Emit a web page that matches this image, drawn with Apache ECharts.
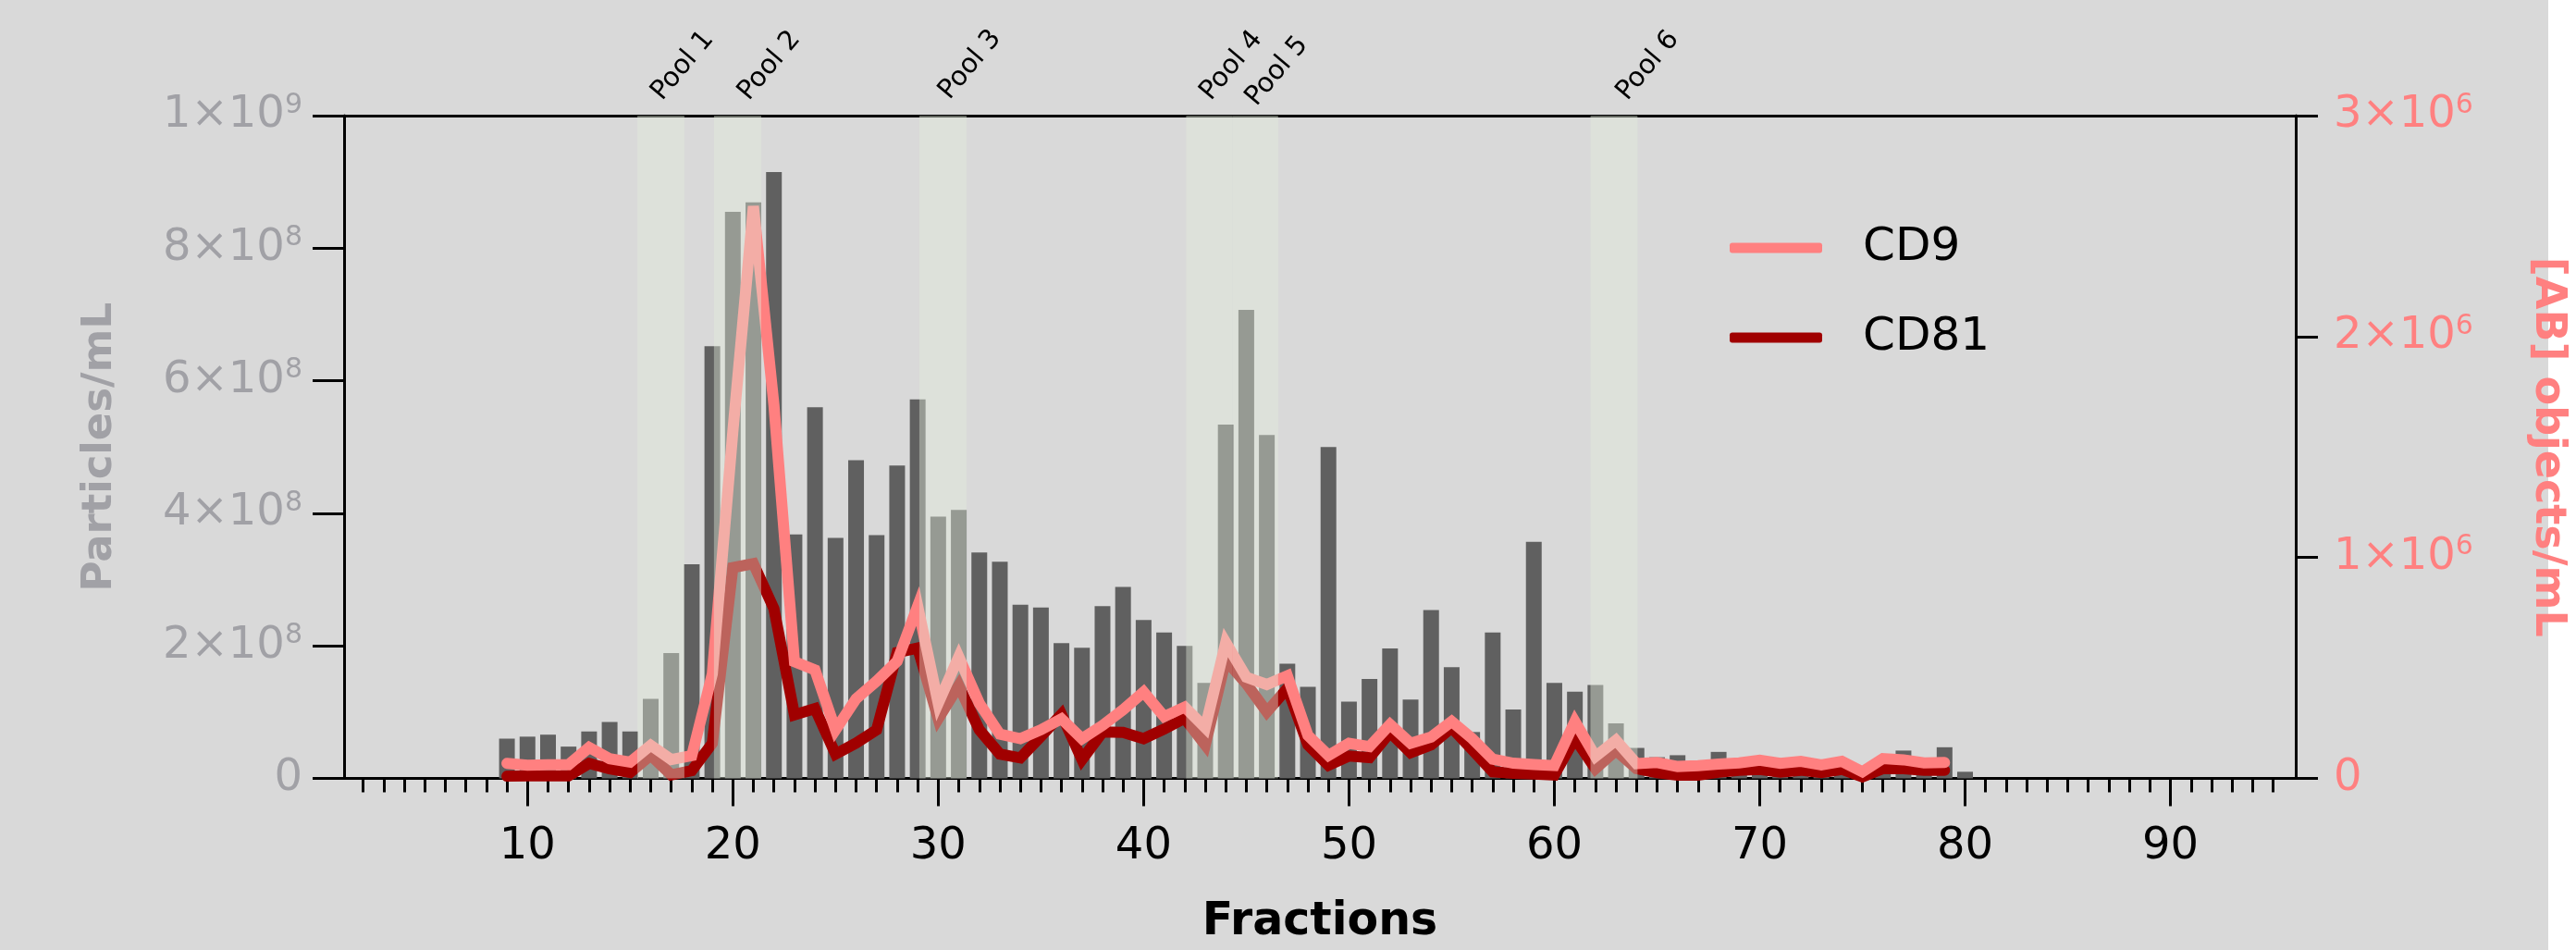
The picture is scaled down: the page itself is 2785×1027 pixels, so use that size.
<!DOCTYPE html>
<html>
<head>
<meta charset="utf-8">
<script src="https://cdn.jsdelivr.net/npm/echarts@6/dist/echarts.min.js"></script>
<style>
html, body { margin: 0; padding: 0; background: #d9d9d9; }
#chart { width: 2785px; height: 1027px; }
</style>
</head>
<body>
<div id="chart"></div>
<script>
// fractions 9..80 (bars) ; lines stop at fraction 79
var fractions = [9,10,11,12,13,14,15,16,17,18,19,20,21,22,23,24,25,26,27,28,29,30,31,32,33,34,35,36,37,38,39,40,
  41,42,43,44,45,46,47,48,49,50,51,52,53,54,55,56,57,58,59,60,61,62,63,64,65,66,67,68,69,70,71,72,73,74,75,76,77,78,79,80];

// Particles/mL
var particles = [6.0e7,6.3e7,6.6e7,4.8e7,7.1e7,8.5e7,7.1e7,1.20e8,1.89e8,3.23e8,6.52e8,8.55e8,8.69e8,9.15e8,3.68e8,5.60e8,
  3.63e8,4.80e8,3.67e8,4.72e8,5.72e8,3.95e8,4.05e8,3.41e8,3.27e8,2.62e8,2.58e8,2.04e8,1.97e8,2.60e8,2.89e8,2.39e8,
  2.20e8,2.00e8,1.44e8,5.34e8,7.07e8,5.18e8,1.73e8,1.38e8,5.00e8,1.16e8,1.50e8,1.96e8,1.19e8,2.54e8,1.68e8,7.0e7,
  2.20e8,1.04e8,3.57e8,1.44e8,1.31e8,1.41e8,8.3e7,4.6e7,3.2e7,3.5e7,2.6e7,4.0e7,1.0e7,2.0e7,1.5e7,2.0e7,1.5e7,2.0e7,
  1.0e7,2.5e7,4.2e7,2.0e7,4.7e7,1.0e7];

// [AB] objects/mL
var cd9 = [6.8e4,6.0e4,6.2e4,6.2e4,1.40e5,8.9e4,7.4e4,1.50e5,8.5e4,1.03e5,4.73e5,1.57e6,2.59e6,1.69e6,5.28e5,4.91e5,
  2.20e5,3.60e5,4.40e5,5.30e5,7.80e5,3.40e5,5.50e5,3.40e5,2.00e5,1.80e5,2.20e5,2.70e5,1.80e5,2.40e5,3.11e5,3.91e5,
  2.80e5,3.23e5,2.30e5,6.15e5,4.58e5,4.25e5,4.65e5,1.95e5,1.04e5,1.59e5,1.44e5,2.44e5,1.59e5,1.87e5,2.58e5,1.80e5,
  8.7e4,6.9e4,6.3e4,5.8e4,2.58e5,9.9e4,1.73e5,6.7e4,7.2e4,5.4e4,5.8e4,6.5e4,7.0e4,8.2e4,6.8e4,7.7e4,6.1e4,7.7e4,
  3.0e4,9.0e4,8.4e4,7.0e4,7.2e4];
var cd81 = [1.0e4,1.2e4,1.2e4,1.2e4,6.8e4,4.3e4,2.7e4,1.05e5,1.6e4,3.5e4,1.59e5,9.54e5,9.72e5,7.68e5,2.88e5,3.16e5,
  1.10e5,1.60e5,2.20e5,5.70e5,5.90e5,2.70e5,4.20e5,2.20e5,1.10e5,9.3e4,1.90e5,2.90e5,8.5e4,2.10e5,2.08e5,1.80e5,
  2.23e5,2.72e5,1.52e5,5.36e5,4.29e5,3.01e5,4.08e5,1.52e5,5.9e4,1.01e5,9.4e4,2.08e5,1.16e5,1.52e5,2.30e5,1.30e5,
  3.0e4,2.3e4,2.0e4,1.5e4,1.82e5,4.4e4,1.27e5,4.4e4,2.6e4,1.5e4,1.5e4,2.8e4,3.7e4,4.1e4,2.8e4,3.7e4,2.6e4,4.1e4,
  7.0e3,4.4e4,4.4e4,3.7e4,3.7e4];

// pooled fraction ranges
var poolNames = ['Pool 1','Pool 2','Pool 3','Pool 4','Pool 5','Pool 6'];
var poolStart = [15.35, 19.08, 29.08, 42.07, 44.33, 61.76];
var poolEnd   = [17.64, 21.38, 31.38, 44.33, 46.55, 64.05];
// label offset (px) from the top-left corner of each pool band
var poolLabelOffset = [[32, -11], [43, -11], [38, -12], [32, -11], [31, -5], [45, -11]];

// x axis ticks
var majorTicks = [10,20,30,40,50,60,70,80,90];
var minorTicks = [2,3,4,5,6,7,8,9,10,11,12,13,14,15,16,17,18,19,20,21,22,23,24,25,26,27,28,29,30,31,32,33,34,35,36,37,38,39,40,
  41,42,43,44,45,46,47,48,49,50,51,52,53,54,55,56,57,58,59,60,61,62,63,64,65,66,67,68,69,70,71,72,73,74,75,76,77,78,79,80,
  81,82,83,84,85,86,87,88,89,90,91,92,93,94,95];

var FONT = 'DejaVu Sans';
var GREY = '#a1a1a6';
var PINK = '#ff8080';
var DARK = '#a00000';

function sci(v) {
  if (v === 0) return '{m|0}';
  var e = Math.floor(Math.log10(v) + 1e-9);
  var m = Math.round(v / Math.pow(10, e));
  return '{m|' + m + '×10}{s|' + e + '}';
}
function richFor(color) {
  return {
    m: { fontSize: 48, fontFamily: FONT, color: color },
    s: { fontSize: 30, fontFamily: FONT, color: color, padding: [0, 0, 22, 0] }
  };
}

var barData = fractions.map(function (f, i) { return [f, particles[i]]; });
var cd9Data = cd9.map(function (v, i) { return [fractions[i], v]; });
var cd81Data = cd81.map(function (v, i) { return [fractions[i], v]; });
var poolAreas = poolNames.map(function (n, i) {
  return [
    { name: n, xAxis: poolStart[i], label: { position: poolLabelOffset[i] } },
    { xAxis: poolEnd[i] }
  ];
});

var chartDom = document.getElementById('chart');
var myChart = echarts.init(chartDom);
var option;

option = {
  backgroundColor: '#d9d9d9',
  animation: false,
  graphic: [{
    type: 'rect', right: 0, top: 0, z: -10,
    shape: { width: 30, height: 1027 },
    style: { fill: '#ffffff' }
  }],
  grid: { left: 372, right: 294, top: 125, bottom: 178 },
  legend: {
    data: ['CD9', 'CD81'],
    orient: 'vertical',
    left: 1865,
    top: 238,
    itemWidth: 100,
    itemHeight: 11,
    itemGap: 47,
    icon: 'roundRect',
    textStyle: { fontSize: 50, fontFamily: FONT, color: '#000', padding: [0, 0, 0, 39] }
  },
  xAxis: [
    {
      type: 'value', min: 1.07, max: 96.1, position: 'bottom',
      axisLine: { show: true, lineStyle: { color: '#000', width: 3 } },
      axisTick: { show: true, customValues: minorTicks, length: 15, lineStyle: { color: '#000', width: 3 } },
      axisLabel: { show: false },
      splitLine: { show: false }
    },
    {
      type: 'value', min: 1.07, max: 96.1, position: 'bottom',
      axisLine: { show: false },
      axisTick: { show: true, customValues: majorTicks, length: 30, lineStyle: { color: '#000', width: 3 } },
      axisLabel: { show: true, customValues: majorTicks, fontSize: 48, fontFamily: FONT, color: '#000', margin: 50 },
      splitLine: { show: false },
      name: 'Fractions',
      nameLocation: 'middle',
      nameGap: 156,
      nameTextStyle: { fontSize: 49, fontWeight: 'bold', fontFamily: FONT, color: '#000', verticalAlign: 'middle' }
    },
    {
      type: 'value', min: 1.07, max: 96.1, position: 'top',
      axisLine: { show: true, lineStyle: { color: '#000', width: 3 } },
      axisTick: { show: false },
      axisLabel: { show: false },
      splitLine: { show: false }
    }
  ],
  yAxis: [
    {
      type: 'value', min: 0, max: 1e9, interval: 2e8, position: 'left',
      axisLine: { show: true, lineStyle: { color: '#000', width: 3 } },
      axisTick: { show: true, length: 34, lineStyle: { color: '#000', width: 3 } },
      axisLabel: { margin: 45, formatter: sci, rich: richFor(GREY) },
      splitLine: { show: false },
      name: 'Particles/mL',
      nameLocation: 'middle',
      nameGap: 264,
      nameRotate: 90,
      nameTextStyle: { fontSize: 45, fontWeight: 'bold', fontFamily: FONT, color: GREY, align: 'center', verticalAlign: 'middle' }
    },
    {
      type: 'value', min: 0, max: 3e6, interval: 1e6, position: 'right',
      axisLine: { show: true, lineStyle: { color: '#000', width: 3 } },
      axisTick: { show: true, length: 24, lineStyle: { color: '#000', width: 3 } },
      axisLabel: { margin: 41, formatter: sci, rich: richFor(PINK) },
      splitLine: { show: false },
      name: '[AB] objects/mL',
      nameLocation: 'middle',
      nameGap: 272,
      nameRotate: -90,
      nameTextStyle: { fontSize: 46, fontWeight: 'bold', fontFamily: FONT, color: PINK, align: 'center', verticalAlign: 'middle' }
    }
  ],
  series: [
    {
      name: 'Particles',
      type: 'bar',
      xAxisIndex: 0,
      yAxisIndex: 0,
      barWidth: 17,
      itemStyle: { color: '#606060' },
      data: barData
    },
    {
      name: 'CD81',
      type: 'line',
      xAxisIndex: 0,
      yAxisIndex: 1,
      showSymbol: false,
      z: 3,
      itemStyle: { color: DARK },
      lineStyle: { color: DARK, width: 12, cap: 'round', join: 'miter' },
      data: cd81Data
    },
    {
      name: 'CD9',
      type: 'line',
      xAxisIndex: 0,
      yAxisIndex: 1,
      showSymbol: false,
      z: 4,
      itemStyle: { color: PINK },
      lineStyle: { color: PINK, width: 12, cap: 'round', join: 'miter' },
      data: cd9Data
    },
    {
      name: 'pools',
      type: 'line',
      xAxisIndex: 0,
      yAxisIndex: 0,
      z: 10,
      data: [],
      markArea: {
        silent: true,
        z: 10,
        itemStyle: { color: 'rgba(227,237,220,0.42)' },
        label: {
          show: true,
          rotate: 50,
          align: 'left',
          verticalAlign: 'bottom',
          fontSize: 29,
          fontFamily: FONT,
          color: '#000'
        },
        data: poolAreas
      }
    }
  ]
};

option && myChart.setOption(option);
</script>
</body>
</html>
